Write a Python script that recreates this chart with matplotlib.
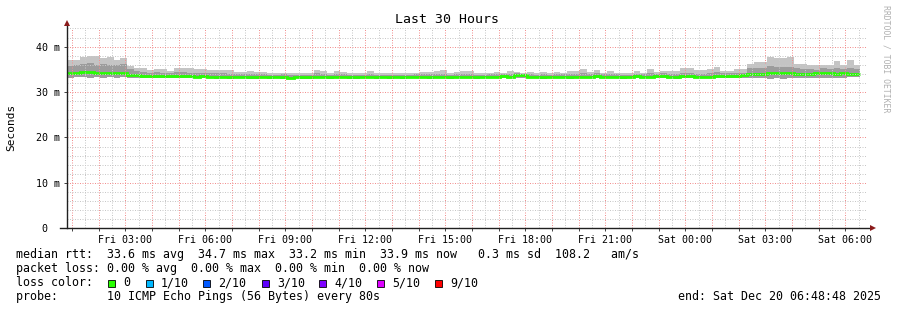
import numpy as np
import matplotlib.pyplot as plt
from matplotlib.patches import Rectangle

# smokeping style data, ms, one step per 15 min starting Fri 00:48:48
med = [34.2, 34.3, 34.5, 34.4, 34.2, 34.3, 34.2, 34.3, 34.3, 33.7,
       33.7, 33.6, 33.5, 33.6, 33.5, 33.5, 33.6, 33.6, 33.5, 33.4,
       33.5, 33.4, 33.4, 33.4, 33.3, 33.4, 33.4, 33.3, 33.3, 33.3,
       33.3, 33.3, 33.3, 33.2, 33.3, 33.3, 33.3, 33.4, 33.4, 33.3,
       33.4, 33.3, 33.3, 33.3, 33.3, 33.4, 33.3, 33.3, 33.3, 33.3,
       33.3, 33.3, 33.4, 33.4, 33.4, 33.4, 33.3, 33.3, 33.4, 33.4,
       33.4, 33.3, 33.3, 33.4, 33.4, 33.5, 33.4, 33.8, 33.7, 33.4,
       33.4, 33.3, 33.3, 33.4, 33.4, 33.3, 33.3, 33.4, 33.4, 33.5,
       33.4, 33.4, 33.4, 33.4, 33.3, 33.5, 33.4, 33.4, 33.5, 33.5,
       33.4, 33.3, 33.5, 33.5, 33.4, 33.4, 33.4, 33.5, 33.6, 33.6,
       33.6, 33.7, 34.0, 34.0, 34.0, 34.2, 34.2, 34.1, 34.1, 34.0,
       34.0, 34.0, 34.1, 34.2, 34.2, 34.0, 34.1, 34.0, 33.9]
hi = [37.1, 37.1, 37.7, 38.0, 38.0, 37.4, 37.7, 37.1, 37.4, 35.8,
      35.4, 35.4, 34.9, 35.0, 35.0, 34.7, 35.4, 35.4, 35.2, 35.1,
      35.1, 34.8, 34.8, 34.8, 34.8, 34.5, 34.5, 34.6, 34.5, 34.4,
      34.2, 34.2, 34.3, 34.1, 34.2, 34.2, 34.3, 34.8, 34.6, 34.2,
      34.6, 34.5, 34.2, 34.2, 34.3, 34.7, 34.3, 34.2, 34.2, 34.3,
      34.2, 34.3, 34.2, 34.4, 34.4, 34.7, 34.8, 34.3, 34.4, 34.6,
      34.7, 34.3, 34.2, 34.2, 34.4, 34.3, 34.7, 34.4, 34.3, 34.4,
      34.3, 34.5, 34.2, 34.4, 34.3, 34.6, 34.7, 35.0, 34.4, 34.8,
      34.3, 34.7, 34.3, 34.2, 34.3, 34.6, 34.3, 35.0, 34.4, 34.7,
      34.6, 34.6, 35.2, 35.2, 34.8, 34.8, 35.0, 35.5, 34.7, 34.7,
      35.0, 35.0, 36.2, 36.6, 36.6, 37.7, 37.5, 37.5, 37.7, 36.2,
      36.2, 36.0, 35.9, 35.9, 35.9, 36.8, 35.9, 37.0, 36.0]
up = [35.8, 36.0, 36.2, 36.3, 36.0, 36.1, 36.0, 35.9, 36.2, 35.0,
      34.6, 34.5, 34.3, 34.4, 34.3, 34.2, 34.5, 34.4, 34.3, 34.2,
      34.3, 34.1, 34.1, 34.1, 34.0, 34.0, 34.0, 34.0, 33.9, 33.9,
      33.8, 33.8, 33.9, 33.7, 33.8, 33.8, 33.8, 34.1, 34.0, 33.8,
      34.0, 33.9, 33.8, 33.8, 33.8, 34.0, 33.8, 33.8, 33.8, 33.8,
      33.8, 33.8, 33.9, 33.9, 33.9, 34.0, 34.0, 33.8, 33.9, 34.0,
      34.0, 33.8, 33.8, 33.9, 33.9, 33.9, 34.0, 34.1, 34.0, 33.9,
      33.8, 33.9, 33.8, 33.9, 33.9, 33.9, 34.0, 34.2, 33.9, 34.1,
      33.9, 34.0, 33.9, 33.8, 33.8, 34.0, 33.9, 34.2, 33.9, 34.1,
      33.9, 33.9, 34.3, 34.3, 34.0, 34.0, 34.2, 34.5, 34.1, 34.1,
      34.2, 34.3, 35.2, 35.3, 35.3, 35.8, 35.6, 35.6, 35.6, 35.2,
      35.0, 35.0, 34.9, 35.2, 35.0, 35.3, 35.0, 35.3, 35.0]
lo = [33.2, 33.3, 33.3, 33.2, 33.3, 33.2, 33.3, 33.2, 33.3, 33.0,
      33.1, 33.1, 33.0, 33.1, 33.0, 33.0, 33.1, 33.0, 33.0, 33.0,
      33.0, 33.0, 32.9, 33.0, 32.9, 33.0, 33.0, 32.9, 32.9, 33.0,
      32.9, 33.0, 32.9, 32.9, 33.0, 32.9, 32.9, 33.0, 33.0, 32.9,
      33.0, 33.0, 32.9, 32.9, 33.0, 33.0, 32.9, 33.0, 32.9, 33.0,
      32.9, 33.0, 33.0, 33.0, 32.9, 33.0, 33.0, 32.9, 33.0, 33.0,
      33.0, 32.9, 33.0, 33.0, 33.0, 33.0, 33.0, 33.2, 33.1, 33.0,
      33.0, 32.9, 33.0, 33.0, 33.0, 32.9, 33.0, 33.0, 33.0, 33.0,
      33.0, 33.0, 33.0, 32.9, 33.0, 33.0, 33.0, 33.0, 33.0, 33.1,
      33.0, 32.9, 33.0, 33.0, 33.0, 33.0, 33.0, 33.1, 33.1, 33.1,
      33.1, 33.1, 33.1, 33.0, 33.0, 32.9, 33.0, 32.9, 33.0, 33.1,
      33.1, 33.2, 33.1, 33.2, 33.1, 33.2, 33.1, 33.3, 33.3]

start_hour = 48/60 + 48/3600   # Fri 00:48:48
step_h = 0.25
x_labels = ['Fri 03:00', 'Fri 06:00', 'Fri 09:00', 'Fri 12:00', 'Fri 15:00',
            'Fri 18:00', 'Fri 21:00', 'Sat 00:00', 'Sat 03:00', 'Sat 06:00']
y_ticks = [0, 10, 20, 30, 40]
y_labels = ['0  ', '10 m', '20 m', '30 m', '40 m']
loss_labels = ['0', '1/10', '2/10', '3/10', '4/10', '5/10', '9/10']
loss_colors = ['#26ff00', '#00b8ff', '#0059ff', '#5e00ff', '#7e00ff', '#dd00ff', '#ff0000']

mono = 'DejaVu Sans Mono'
W, H = 897, 310

fig = plt.figure(figsize=(W/100, H/100), dpi=100)
fig.patch.set_facecolor('white')
ax = fig.add_axes([67/W, 1 - 228.3/H, 800/W, 200.3/H])
ax.set_xlim(0, 30)
ax.set_ylim(0, 44.1)

edges = np.arange(len(med) + 1) * step_h
ax.stairs(hi, edges, baseline=lo, fill=True, color='#c4c4c4', lw=0)
ax.stairs(up, edges, baseline=lo, fill=True, color='#9c9c9c', lw=0)
ax.stairs(med, edges, baseline=None, color='#26ff00', lw=2.0)

# grid
hours = np.arange(1, 31) - start_hour
xl = iter(x_labels)
major_labels = [next(xl) if h % 3 == 0 else '' for h in range(1, 31)]
ax.set_xticks(hours, labels=major_labels)
ax.set_xticks(np.arange(1.5, 31, 1) - start_hour, minor=True)
ax.set_yticks(y_ticks, labels=y_labels)
ax.set_yticks(np.arange(2, 44.1, 2), minor=True)
ax.set_axisbelow('line')
ax.grid(which='minor', color='#c8c8c8', lw=0.72, ls=(0, (1, 1.5)))
ax.grid(which='major', color='#f29090', lw=0.72, ls=(0, (1, 1.5)))
ax.tick_params(which='minor', length=0)
ax.tick_params(which='major', length=2, width=0.7, color='#404040', pad=3,
               labelsize=7.2, labelcolor='black')
for lab in ax.get_xticklabels() + ax.get_yticklabels():
    lab.set_family(mono)
for s in ax.spines.values():
    s.set_visible(False)

# axes with arrows
ax.plot([-0.009, 1.004], [0, 0], transform=ax.transAxes, clip_on=False, color='#202020', lw=1)
ax.plot([0, 0], [0, 1.025], transform=ax.transAxes, clip_on=False, color='#202020', lw=1)
ax.plot([1.007], [0], transform=ax.transAxes, clip_on=False, marker='>', ms=4, color='#8b1a1a', mew=0)
ax.plot([0], [1.027], transform=ax.transAxes, clip_on=False, marker='^', ms=4, color='#8b1a1a', mew=0)

fig.text(447/W, 1 - 19.5/H, 'Last 30 Hours', ha='center', va='center', family=mono, size=9.5)
fig.text(11/W, 1 - 127/H, 'Seconds', rotation=90, ha='center', va='center', family=mono, size=8)
fig.text(886/W, 1 - 5/H, 'RRDTOOL / TOBI OETIKER', rotation=270, ha='center', va='top',
         family=mono, size=5.9, color='#b0b0b0')

fs = 8.4
fig.text(16/W, 1 - 254.5/H,
         'median rtt:  33.6 ms avg  34.7 ms max  33.2 ms min  33.9 ms now   0.3 ms sd  108.2   am/s',
         ha='left', va='center', family=mono, size=fs)
fig.text(16/W, 1 - 268.5/H, 'packet loss: 0.00 % avg  0.00 % max  0.00 % min  0.00 % now',
         ha='left', va='center', family=mono, size=fs)
fig.text(16/W, 1 - 282.5/H, 'loss color:', ha='left', va='center', family=mono, size=fs)
box_x = [108, 146, 203, 262, 319, 377, 435]
for bx, lab, c in zip(box_x, loss_labels, loss_colors):
    fig.patches.append(Rectangle((bx/W, 1 - 286.5/H), 7/W, 7/H, transform=fig.transFigure,
                                 facecolor=c, edgecolor='black', lw=0.6))
    fig.text((bx + 15)/W, 1 - 282.5/H, lab, ha='left', va='center', family=mono, size=fs)
fig.text(16/W, 1 - 296.5/H, 'probe:       10 ICMP Echo Pings (56 Bytes) every 80s',
         ha='left', va='center', family=mono, size=fs)
fig.text(881/W, 1 - 296.5/H, 'end: Sat Dec 20 06:48:48 2025',
         ha='right', va='center', family=mono, size=fs)

fig.savefig('out.png', dpi=100)
